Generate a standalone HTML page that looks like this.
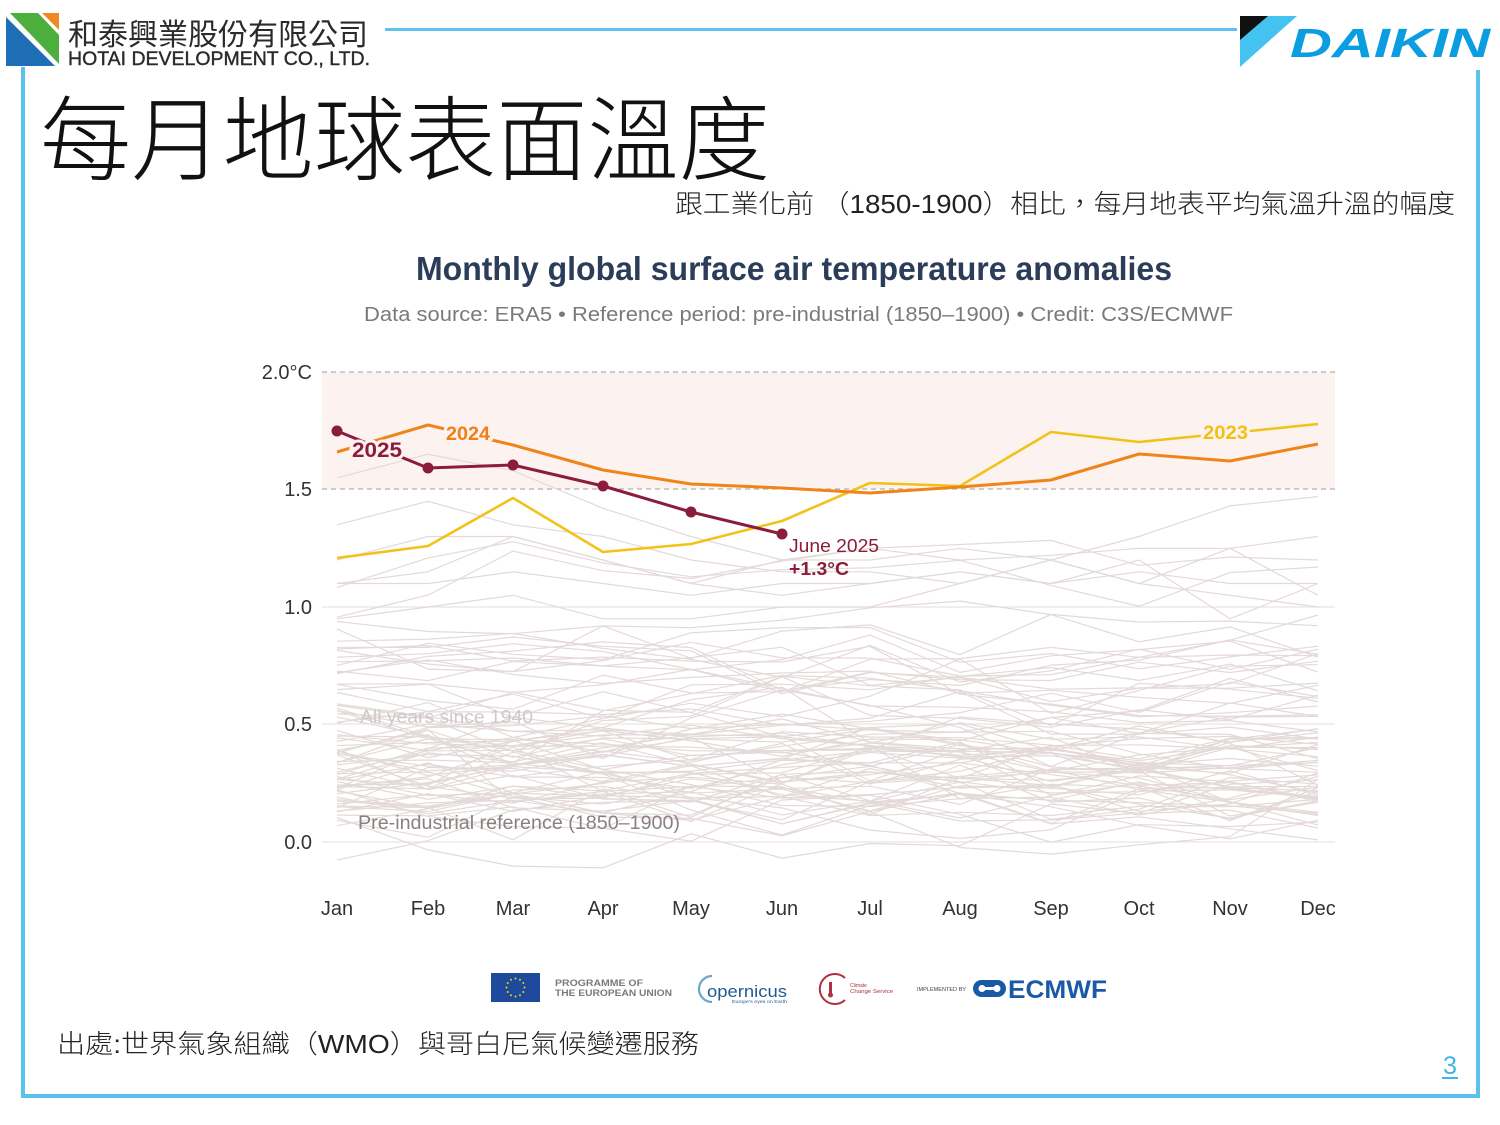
<!DOCTYPE html>
<html><head><meta charset="utf-8">
<style>
html,body{margin:0;padding:0;background:#fff;}
body{width:1500px;height:1125px;overflow:hidden;}
svg{display:block;}
.cjk{font-family:"Liberation Sans","Noto Sans CJK TC",sans-serif;}
.lat{font-family:"Liberation Sans",sans-serif;}
</style></head><body>
<svg width="1500" height="1125" viewBox="0 0 1500 1125" xmlns="http://www.w3.org/2000/svg">
<rect x="0" y="0" width="1500" height="1125" fill="#fff"/>

<!-- HOTAI logo -->
<polygon points="6,17 6,66 55,66" fill="#1f6fb6"/>
<polygon points="10,13 38,13 59,35 59,64" fill="#4cae3c"/>
<polygon points="42,13 59,13 59,30" fill="#ef8a22"/>
<text x="68" y="45" class="cjk" font-size="30" fill="#2a2a2a" textLength="300" lengthAdjust="spacingAndGlyphs">和泰興業股份有限公司</text>
<text x="68" y="65" class="lat" font-size="19.5" fill="#2a2a2a" stroke="#2a2a2a" stroke-width="0.4" textLength="302" lengthAdjust="spacingAndGlyphs">HOTAI DEVELOPMENT CO., LTD.</text>

<!-- top line -->
<rect x="385" y="28" width="852" height="3" fill="#5bc4ee"/>

<!-- DAIKIN logo -->
<polygon points="1240,16 1297,16 1240,67" fill="#44c3f0"/>
<polygon points="1240,16 1268,16 1240,40" fill="#111"/>
<text x="1290" y="57" class="lat" font-size="41" font-weight="bold" font-style="italic" fill="#0a9ee0" textLength="200" lengthAdjust="spacingAndGlyphs">DAIKIN</text>

<!-- frame -->
<rect x="21" y="67" width="4" height="1031" fill="#5bc2ec"/>
<rect x="21" y="1094" width="1459" height="4" fill="#5bc2ec"/>
<rect x="1476" y="70" width="4" height="1028" fill="#5bc2ec"/>

<!-- title -->
<text x="40" y="173" class="cjk" font-size="92" font-weight="300" fill="#111" textLength="730" lengthAdjust="spacingAndGlyphs">每月地球表面溫度</text>
<text x="675" y="213" class="cjk" font-size="26" font-weight="300" fill="#222" textLength="780" lengthAdjust="spacingAndGlyphs">跟工業化前 （1850-1900）相比，每月地表平均氣溫升溫的幅度</text>

<!-- chart titles -->
<text x="416" y="280" class="lat" font-size="33" font-weight="bold" fill="#2c3d5a" textLength="756" lengthAdjust="spacingAndGlyphs">Monthly global surface air temperature anomalies</text>
<text x="364" y="321" class="lat" font-size="20.5" fill="#7a7a7a" textLength="869" lengthAdjust="spacingAndGlyphs">Data source: ERA5 • Reference period: pre-industrial (1850–1900) • Credit: C3S/ECMWF</text>

<!-- plot background -->
<rect x="322" y="372" width="1013" height="117" fill="#fcf3f1"/>
<g stroke="#ebe4e4" stroke-width="1.2">
<line x1="322" y1="607" x2="1335" y2="607"/>
<line x1="322" y1="724" x2="1335" y2="724"/>
<line x1="322" y1="842" x2="1335" y2="842"/>
</g>
<g stroke="#b0b0b0" stroke-width="1.2" stroke-dasharray="5,4">
<line x1="322" y1="372" x2="1335" y2="372"/>
<line x1="322" y1="489" x2="1335" y2="489"/>
</g>

<g id="bg" fill="none" stroke="#e4d9d9" stroke-width="1.2"></g>

<!-- axis labels -->
<g class="lat" font-size="20" fill="#333" text-anchor="end">
<text x="312" y="379">2.0°C</text>
<text x="312" y="496">1.5</text>
<text x="312" y="614">1.0</text>
<text x="312" y="731">0.5</text>
<text x="312" y="849">0.0</text>
</g>
<g class="lat" font-size="20" fill="#333" text-anchor="middle">
<text x="337" y="915">Jan</text>
<text x="428" y="915">Feb</text>
<text x="513" y="915">Mar</text>
<text x="603" y="915">Apr</text>
<text x="691" y="915">May</text>
<text x="782" y="915">Jun</text>
<text x="870" y="915">Jul</text>
<text x="960" y="915">Aug</text>
<text x="1051" y="915">Sep</text>
<text x="1139" y="915">Oct</text>
<text x="1230" y="915">Nov</text>
<text x="1318" y="915">Dec</text>
</g>

<text x="360" y="723" class="lat" font-size="18" fill="#cfc8c8" textLength="173" lengthAdjust="spacingAndGlyphs">All years since 1940</text>
<text x="358" y="829" class="lat" font-size="19" fill="#8a8080" textLength="322" lengthAdjust="spacingAndGlyphs">Pre-industrial reference (1850–1900)</text>

<!-- 2023 -->
<polyline fill="none" stroke="#f3c21a" stroke-width="2.6" stroke-linejoin="round" points="337,558 428,546 513,498 603,552 691,544 782,521 870,483 960,486 1051,432 1139,442 1230,433 1318,424"/>
<!-- 2024 -->
<polyline fill="none" stroke="#f0841a" stroke-width="3" stroke-linejoin="round" points="337,452 428,425 513,445 603,470 691,484 782,488 870,493 960,487 1051,480 1139,454 1230,461 1318,444"/>
<text x="1203" y="439" class="lat" font-size="19" font-weight="bold" fill="#f2c015" stroke="#fcf3f1" stroke-width="6" paint-order="stroke" textLength="45" lengthAdjust="spacingAndGlyphs">2023</text>
<text x="446" y="440" class="lat" font-size="19" font-weight="bold" fill="#f07f14" stroke="#fcf3f1" stroke-width="6" paint-order="stroke" textLength="44" lengthAdjust="spacingAndGlyphs">2024</text>
<!-- 2025 -->
<polyline fill="none" stroke="#8b1c3a" stroke-width="3" stroke-linejoin="round" points="337,431 428,468 513,465 603,486 691,512 782,534"/>
<text x="352" y="457" class="lat" font-size="21" font-weight="bold" fill="#8b1c3a" stroke="#fcf3f1" stroke-width="6" paint-order="stroke" textLength="50" lengthAdjust="spacingAndGlyphs">2025</text>
<g fill="#8b1c3a">
<circle cx="337" cy="431" r="5.5"/>
<circle cx="428" cy="468" r="5.5"/>
<circle cx="513" cy="465" r="5.5"/>
<circle cx="603" cy="486" r="5.5"/>
<circle cx="691" cy="512" r="5.5"/>
<circle cx="782" cy="534" r="5.5"/>
</g>
<text x="789" y="552" class="lat" font-size="18" fill="#8b1c3a" textLength="90" lengthAdjust="spacingAndGlyphs">June 2025</text>
<text x="789" y="575" class="lat" font-size="18" font-weight="bold" fill="#8b1c3a" textLength="60" lengthAdjust="spacingAndGlyphs">+1.3°C</text>

<!-- bottom logos -->
<rect x="491" y="973" width="49" height="29" fill="#1d4a9c"/>
<g fill="#f5d20a" id="stars"></g>
<text x="555" y="986" class="lat" font-size="9" font-weight="bold" fill="#7a7a7a" textLength="88" lengthAdjust="spacingAndGlyphs">PROGRAMME OF</text>
<text x="555" y="996" class="lat" font-size="9" font-weight="bold" fill="#7a7a7a" textLength="117" lengthAdjust="spacingAndGlyphs">THE EUROPEAN UNION</text>
<path d="M712,976 A13,13 0 1 0 712,1002" fill="none" stroke="#6aa6cf" stroke-width="2.2"/>
<text x="707" y="997" class="lat" font-size="17" fill="#1e5b94" textLength="80" lengthAdjust="spacingAndGlyphs">opernicus</text>
<text x="732" y="1003" class="lat" font-size="4.5" fill="#1e5b94" textLength="55" lengthAdjust="spacingAndGlyphs">Europe's eyes on Earth</text>
<path d="M845,978 A15,15 0 1 0 845,1000" fill="none" stroke="#b03040" stroke-width="2"/>
<rect x="829" y="982" width="3" height="12" fill="#b03040"/>
<circle cx="830.5" cy="995" r="2.5" fill="#b03040"/>
<text x="850" y="987" class="lat" font-size="5" fill="#b03040">Climate</text>
<text x="850" y="993" class="lat" font-size="5" fill="#b03040" textLength="43" lengthAdjust="spacingAndGlyphs">Change Service</text>
<text x="917" y="991" class="lat" font-size="5" fill="#444" textLength="49" lengthAdjust="spacingAndGlyphs">IMPLEMENTED BY</text>
<rect x="973" y="980" width="33" height="17" rx="8.5" fill="#1a5aa5"/>
<rect x="979" y="987" width="21" height="3" fill="#fff"/>
<circle cx="982" cy="988.5" r="3.5" fill="#fff"/>
<circle cx="997" cy="988.5" r="3.5" fill="#fff"/>
<text x="1008" y="998" class="lat" font-size="25" font-weight="bold" fill="#1a5aa5" textLength="99" lengthAdjust="spacingAndGlyphs">ECMWF</text>

<!-- footer -->
<text x="57" y="1053" class="cjk" font-size="26" font-weight="300" fill="#222" textLength="642" lengthAdjust="spacingAndGlyphs">出處:世界氣象組織（WMO）與哥白尼氣候變遷服務</text>
<text x="1443" y="1074" class="lat" font-size="25" fill="#44b4e6" textLength="14" lengthAdjust="spacingAndGlyphs">3</text>
<rect x="1442" y="1077" width="16" height="2" fill="#44b4e6"/>
</svg>
<script>
(function(){
var NS="http://www.w3.org/2000/svg";
function mulberry32(a){return function(){a|=0;a=a+0x6D2B79F5|0;var t=Math.imul(a^a>>>15,1|a);t=t+Math.imul(t^t>>>7,61|t)^t;return((t^t>>>14)>>>0)/4294967296;};}
var r=mulberry32(20250607);
function g(){return (r()+r()+r()+r()-2)*1.732;}
var X=[337,428,513,603,691,782,870,960,1051,1139,1230,1318];
function Y(v){return 842-235*v;}
var special={
2015:[0.95,1.0,1.05,0.95,0.95,1.0,1.0,1.1,1.2,1.3,1.43,1.47],
2016:[1.55,1.65,1.58,1.42,1.3,1.2,1.2,1.25,1.2,1.1,1.05,1.0],
2017:[1.2,1.3,1.3,1.2,1.1,1.05,1.1,1.15,1.1,1.15,1.1,1.1],
2019:[1.1,1.15,1.3,1.2,1.1,1.2,1.25,1.2,1.22,1.25,1.25,1.3],
2020:[1.35,1.45,1.35,1.3,1.2,1.15,1.15,1.1,1.2,1.1,1.25,1.05],
2022:[1.1,1.1,1.15,1.1,1.05,1.1,1.1,1.15,1.1,1.2,0.95,1.1]
};
var grp=document.getElementById('bg');
for(var yr=1940;yr<=2022;yr++){
  var vals;
  if(special[yr]){vals=special[yr];}
  else{
    var b;
    if(yr<1946) b=0.34+0.07*g();
    else if(yr<1977) b=0.22+0.08*g();
    else if(yr<2015) b=0.25+(yr-1977)*0.016+0.07*g();
    else b=1.1+0.07*g();
    vals=[];var w=0.07*g();
    for(var m=0;m<12;m++){w=w*0.7+0.07*g();var v=b+w+0.025*g(); if(v<-0.12) v=-0.12+0.03*r(); vals.push(v);}
  }
  var pts=[];
  for(var m=0;m<12;m++){pts.push(X[m]+","+Y(vals[m]).toFixed(1));}
  var p=document.createElementNS(NS,"polyline");
  p.setAttribute("points",pts.join(" "));
  grp.appendChild(p);
}
var st=document.getElementById('stars');
for(var i=0;i<12;i++){
  var a=i*Math.PI/6;
  var c=document.createElementNS(NS,"circle");
  c.setAttribute("cx",(515.5+9*Math.cos(a)).toFixed(1));
  c.setAttribute("cy",(987.5+9*Math.sin(a)).toFixed(1));
  c.setAttribute("r","1");
  st.appendChild(c);
}
})();
</script>
</body></html>
